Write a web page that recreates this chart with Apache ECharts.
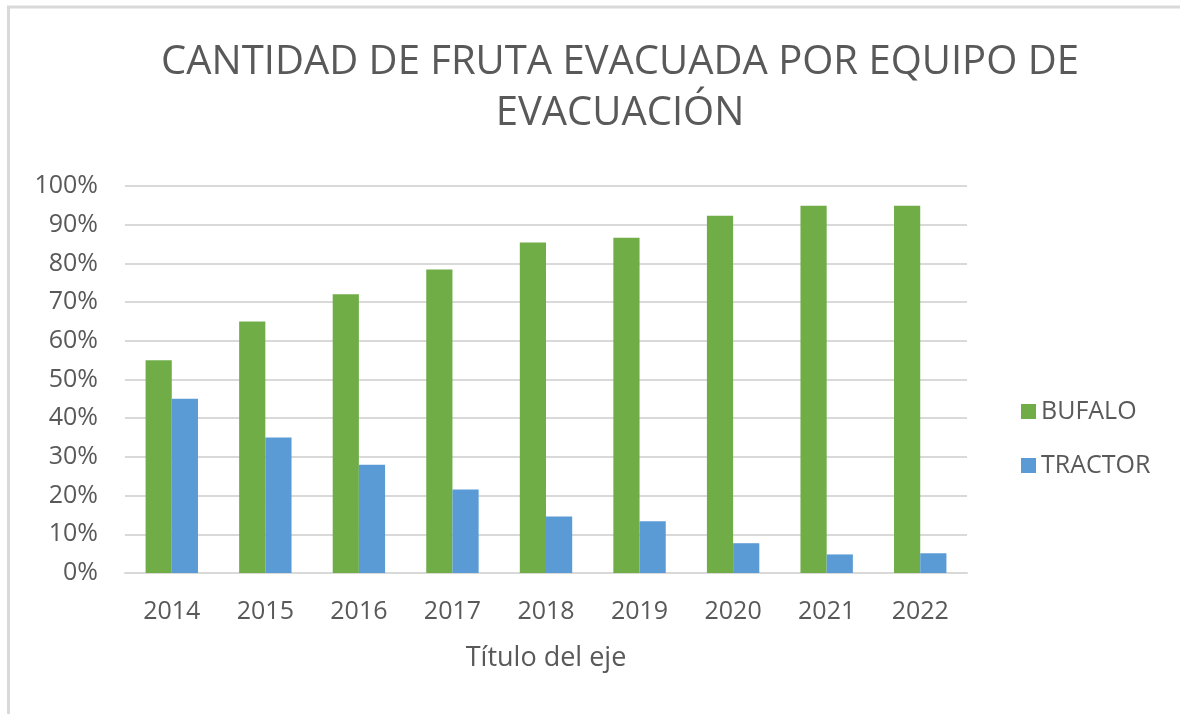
<!DOCTYPE html>
<html>
<head>
<meta charset="utf-8">
<script src="https://cdn.jsdelivr.net/npm/echarts@6/dist/echarts.min.js"></script>
<style>html,body{margin:0;padding:0;background:#fff;}#c{width:1180px;height:714px;}</style>
</head>
<body>
<div id="c"></div>
<script>
var categories = ['2014','2015','2016','2017','2018','2019','2020','2021','2022'];
var bufalo = [55, 65, 72, 78.4, 85.4, 86.6, 92.3, 94.9, 94.9];
var tractor = [45, 35, 28, 21.6, 14.6, 13.4, 7.7, 4.8, 5.1];
var yTicks = [0, 10, 20, 30, 40, 50, 60, 70, 80, 90, 100];

var FONT = '"Open Sans", "Noto Sans", sans-serif';
var chart = echarts.init(document.getElementById('c'));
chart.setOption({
  animation: false,
  backgroundColor: '#ffffff',
  title: {
    text: 'CANTIDAD DE FRUTA EVACUADA POR EQUIPO DE\nEVACUACIÓN',
    left: 615, top: 32, textAlign: 'center',
    textStyle: { fontFamily: FONT, fontWeight: 'normal', fontSize: 40, color: '#595959', lineHeight: 51 }
  },
  legend: {
    orient: 'vertical', left: 1016, top: 394,
    itemWidth: 15, itemHeight: 15, itemGap: 29,
    icon: 'rect',
    textStyle: { fontFamily: FONT, fontSize: 25, color: '#595959' },
    data: ['BUFALO', 'TRACTOR']
  },
  grid: { left: 125, right: 213, top: 186, bottom: 141, containLabel: false },
  xAxis: {
    type: 'category', data: categories,
    name: 'Título del eje', nameLocation: 'middle', nameGap: 72,
    nameTextStyle: { fontFamily: FONT, fontSize: 27, color: '#595959' },
    axisLine: { lineStyle: { color: '#d9d9d9', width: 2 } },
    axisTick: { show: false },
    axisLabel: { fontFamily: FONT, fontSize: 25, color: '#595959', margin: 26 }
  },
  yAxis: {
    type: 'value', min: yTicks[0], max: yTicks[yTicks.length - 1], interval: 10,
    axisLine: { show: false }, axisTick: { show: false },
    splitLine: { lineStyle: { color: '#d9d9d9', width: 2 } },
    axisLabel: { fontFamily: FONT, fontSize: 25, color: '#595959', margin: 27, formatter: '{value}%' }
  },
  series: [
    { name: 'BUFALO', type: 'bar', data: bufalo, barGap: '0%', barCategoryGap: '44%',
      itemStyle: { color: '#70AD47' } },
    { name: 'TRACTOR', type: 'bar', data: tractor, barGap: '0%', barCategoryGap: '44%',
      itemStyle: { color: '#5B9BD5' } }
  ],
  graphic: [
    { type: 'line', shape: { x1: 7, y1: 7, x2: 1180, y2: 7 }, style: { stroke: '#d9d9d9', lineWidth: 3 } },
    { type: 'line', shape: { x1: 8.5, y1: 7, x2: 8.5, y2: 714 }, style: { stroke: '#d9d9d9', lineWidth: 3 } }
  ]
});
</script>
</body>
</html>
